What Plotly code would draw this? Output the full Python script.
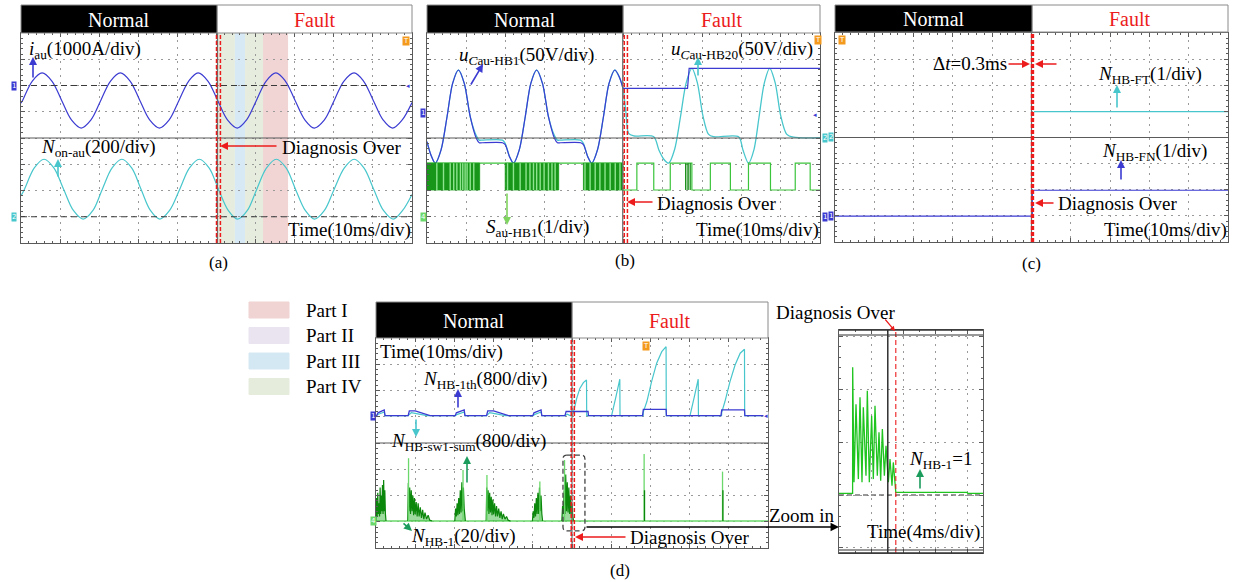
import plotly.graph_objects as go

W, H = 1233, 582
SERIF = "Liberation Serif"
BLUE = "#3b3bd2"
CYAN = "#47c6cc"
GREEN = "#16a316"
LGREEN = "#6ad86a"
DGREEN = "#0b870b"
RED = "#ec1c1c"
GRID = "#9a9a9a"
FRAME = "#5a5a5a"
ORANGE = "#f39a1e"

# ---------------- (a) auxiliary current / on-state count (time in ms, values in div) ----------------
ia_t = [0, 0.4, 2.9, 5.4, 7.9, 10.4, 12.9, 15.4, 17.9, 20.4, 22.9, 25.4, 27.9, 30.4, 32.9, 35.4, 37.9, 40.4, 42.9, 45.3,
        47.8, 50.3, 52.8, 55.3, 57.7, 60.2, 62.7, 65.2, 67.6, 70.1, 72.6, 75.0, 77.6, 80.1, 82.6, 85.2, 87.6, 90.1, 92.6, 95.0,
        97.5, 100]
ia_v = [5.33, 5.43, 6.17, 6.48, 6.17, 5.43, 4.69, 4.38, 4.69, 5.43, 6.17, 6.48, 6.17, 5.43, 4.69, 4.38, 4.69, 5.43, 6.17, 6.48,
        6.17, 5.43, 4.69, 4.38, 4.69, 5.43, 6.17, 6.48, 6.17, 5.43, 4.69, 4.38, 4.69, 5.43, 6.17, 6.48, 6.17, 5.43, 4.69, 4.38,
        4.69, 5.35]
non_t = [0, 0.9, 3.4, 5.9, 8.4, 10.9, 13.4, 15.9, 18.4, 20.8, 23.3, 25.8, 28.3, 30.7, 33.1, 35.5, 38.0, 40.6, 43.1, 45.6,
         48.1, 50.5, 53.0, 55.4, 57.9, 60.3, 62.8, 65.3, 67.8, 70.2, 72.7, 75.1, 77.6, 80.1, 82.7, 85.2, 87.7, 90.2, 92.7, 95.2,
         97.6, 100]
non_v = [1.80, 2.05, 2.86, 3.19, 2.86, 2.05, 1.24, 0.91, 1.24, 2.05, 2.86, 3.19, 2.86, 2.05, 1.24, 0.91, 1.24, 2.05, 2.86, 3.19,
         2.86, 2.05, 1.24, 0.91, 1.24, 2.05, 2.86, 3.19, 2.86, 2.05, 1.24, 0.91, 1.24, 2.05, 2.86, 3.19, 2.86, 2.05, 1.24, 0.91,
         1.24, 1.85]
ground_a = [6.0, 1.0]

part_names = ["Part I", "Part II", "Part III", "Part IV"]
part_colors = ["#f0d3d3", "#e9e4ef", "#d4e8f3", "#e5ecdc"]
band_start = [50.1, 54.7, 57.3, 61.9]
band_end = [54.7, 57.3, 61.9, 68.3]
band_part = [3, 2, 3, 0]

# ---------------- (b) capacitor voltages and switching signal ----------------
ucau1_pre_t = [0, 1.0, 2.1, 3.6, 5.1, 6.5, 8.0, 9.5, 11.0, 12.5, 13.3, 14.0, 19.2, 19.9, 21.0, 22.0, 23.5, 25.0, 26.4, 27.9,
               29.4, 30.9, 32.4, 33.2, 34.0, 39.1, 39.8, 40.9, 41.9, 43.4, 44.9, 46.3, 47.8, 49.0, 49.85]
ucau1_pre_v = [3.86, 3.35, 3.04, 3.56, 4.81, 6.07, 6.59, 6.07, 4.81, 4.0, 3.82, 3.82, 3.82, 3.75, 3.29, 3.04, 3.56, 4.81, 6.07, 6.59,
               6.07, 4.81, 4.0, 3.82, 3.82, 3.82, 3.75, 3.29, 3.04, 3.56, 4.81, 6.07, 6.59, 6.3, 5.9]
ucau1_post_t = [49.85, 66.3, 66.7, 100]
ucau1_post_v = [5.89, 5.89, 6.65, 6.65]
ucau20_t = [0, 1.0, 2.1, 3.6, 5.1, 6.5, 8.0, 9.5, 11.0, 12.5, 13.3, 14.0, 19.2, 19.9, 21.0, 22.0, 23.5, 25.0, 26.4, 27.9,
            29.4, 30.9, 32.4, 33.2, 34.0, 39.1, 39.8, 40.9, 41.9, 43.4, 44.9, 46.3, 47.8, 49.0, 49.85,
            50.6, 51.3, 52.6, 57.7, 59.0, 60.2, 61.5, 63.0, 64.5, 65.9, 67.4, 68.8, 70.2, 71.6, 72.9, 79.3, 80.4, 81.8, 83.2, 84.5,
            85.8, 87.2, 88.6, 90.0, 91.5, 93.3, 100]
ucau20_v = [3.86, 3.35, 3.04, 3.56, 4.81, 6.07, 6.59, 6.07, 4.81, 4.1, 3.92, 3.92, 3.92, 3.80, 3.29, 3.04, 3.56, 4.81, 6.07, 6.59,
            6.07, 4.81, 4.1, 3.92, 3.92, 3.92, 3.80, 3.29, 3.04, 3.56, 4.81, 6.07, 6.59, 6.3, 5.9,
            5.0, 4.18, 4.08, 4.05, 3.54, 3.2, 3.04, 3.56, 4.81, 6.07, 6.65, 6.1, 4.85, 4.15, 4.05, 4.05, 3.54, 3.04, 3.56, 4.81,
            6.07, 6.65, 6.1, 4.85, 4.15, 4.03, 4.01]
sw_t = [0, 13.4, 19.9, 33.5, 39.8, 49.8, 53.4, 57.7, 61.9, 67.4, 72.1, 77.2, 81.8, 87.4, 93.7, 97.5, 100]
sw_v = [3.04, 3.04, 3.04, 3.04, 3.04, 2.02, 3.04, 2.02, 3.04, 2.02, 3.04, 2.02, 3.04, 2.02, 3.04, 2.02, 2.02]
sw_low, sw_high = 2.02, 3.04
burst_start = [0, 19.9, 39.8]
burst_end = [13.4, 33.5, 49.8]
burst_light = [2.5, 4.2, 5.9, 6.8, 7.6, 8.5, 9.1, 9.7, 10.2, 11.0, 11.9,
               20.5, 22.0, 23.7, 25.2, 26.2, 27.1, 27.9, 28.8, 29.8, 30.9, 31.8, 32.6,
               40.2, 41.5, 42.8, 44.0, 45.3, 46.6, 47.9, 49.1]
burst_dark_post = [65.8, 66.2, 66.6, 67.0]

# ---------------- (c) fault counters ----------------
fn_t = [0, 50.2, 50.2, 100]
fn_v = [0.99, 0.99, 1.98, 1.98]
ft_t = [50.6, 100]
ft_v = [4.99, 4.99]

# ---------------- (d) thresholds and fault counter ----------------
n1th_t = [0, 0.2, 0.5, 2.1, 2.3, 8.2, 8.5, 10.0, 13.8, 20.2, 20.5, 22.5, 22.7, 28.2, 28.5, 30.0, 33.8, 40.0, 40.3, 42.1, 42.3,
          48.2, 48.5, 54.1, 54.2, 68.0, 68.2, 74.0, 74.1, 88.0, 88.2, 94.0, 94.1, 100]
n1th_v = [5.04, 5.04, 5.15, 5.26, 5.04, 5.04, 5.22, 5.22, 5.04, 5.04, 5.15, 5.26, 5.04, 5.04, 5.22, 5.22, 5.04, 5.04, 5.15, 5.26, 5.04,
          5.04, 5.2, 5.2, 5.04, 5.04, 5.28, 5.28, 5.04, 5.04, 5.26, 5.26, 5.04, 5.04]
nsum_t = [0, 0.3, 2.1, 2.3, 8.2, 9.0, 11.0, 13.0, 20.2, 20.6, 22.5, 22.7, 28.2, 29.0, 31.0, 33.0, 40.0, 40.4, 42.1, 42.3, 48.2, 48.8, 49.6,
          50.3, 51.2, 52.0, 52.9, 53.7, 53.75, 60.1, 61.2, 62.2, 62.25, 68.15, 68.2, 69.1, 70.3, 71.6, 72.9, 74.0, 74.05,
          80.1, 81.2, 82.2, 82.25, 88.15, 88.2, 89.0, 90.3, 91.6, 92.9, 94.0, 94.05, 100]
nsum_v = [5.04, 5.08, 5.18, 5.04, 5.04, 5.16, 5.1, 5.04, 5.04, 5.08, 5.18, 5.04, 5.04, 5.16, 5.1, 5.04, 5.04, 5.08, 5.18, 5.04, 5.04, 5.1, 5.04,
          5.13, 5.70, 6.08, 6.30, 6.40, 5.04, 5.04, 5.76, 6.43, 5.04, 5.04, 5.19, 5.58, 6.34, 7.04, 7.48, 7.67, 5.04,
          5.04, 5.76, 6.43, 5.04, 5.04, 5.17, 5.57, 6.34, 6.97, 7.42, 7.57, 5.04, 5.04]

nb_base = 1.03
nb1_t = [0, 0.15, 0.3, 0.45, 0.6, 0.75, 0.9, 1.05, 1.2, 1.35, 1.5, 1.65, 1.8, 1.95, 2.1, 2.25, 2.4, 2.55]
nb1_v = [1.03, 1.9, 1.2, 2.1, 1.3, 1.7, 1.2, 2.3, 1.3, 2.0, 1.4, 2.4, 1.3, 2.59, 1.4, 2.2, 1.3, 1.03]
nb2_t = [8.1, 8.25, 8.4, 8.6, 8.8, 9.0, 9.2, 9.4, 9.6, 9.8, 10.0, 10.25, 10.5, 10.75, 11.0, 11.3, 11.6, 11.9, 12.2, 12.5, 12.9, 13.3, 13.7, 14.3]
nb2_v = [1.03, 2.48, 1.4, 2.3, 1.3, 2.2, 1.4, 2.0, 1.25, 1.9, 1.3, 1.75, 1.2, 1.7, 1.2, 1.55, 1.15, 1.45, 1.1, 1.35, 1.1, 1.25, 1.06, 1.03]
nb3_t = [20.1, 20.3, 20.5, 20.7, 20.9, 21.1, 21.3, 21.5, 21.7, 21.9, 22.1, 22.3, 22.5, 22.8]
nb3_v = [1.03, 1.5, 1.2, 1.7, 1.25, 1.9, 1.3, 2.2, 1.35, 2.5, 1.4, 2.3, 1.5, 1.03]
nb4_t = [28.1, 28.25, 28.4, 28.6, 28.8, 29.0, 29.2, 29.4, 29.6, 29.8, 30.0, 30.25, 30.5, 30.75, 31.0, 31.3, 31.6, 31.9, 32.2, 32.5, 32.9, 33.3, 33.7, 34.3]
nb4_v = [1.03, 2.3, 1.4, 2.2, 1.3, 2.1, 1.35, 1.95, 1.25, 1.85, 1.3, 1.7, 1.2, 1.6, 1.2, 1.5, 1.15, 1.4, 1.1, 1.3, 1.1, 1.2, 1.06, 1.03]
nb5_t = [39.9, 40.1, 40.3, 40.5, 40.7, 40.9, 41.1, 41.3, 41.5, 41.7, 41.9, 42.1, 42.3, 42.5]
nb5_v = [1.03, 1.4, 1.15, 1.7, 1.2, 1.9, 1.3, 2.1, 1.3, 2.3, 1.4, 2.0, 1.3, 1.03]
nb6_t = [47.4, 47.6, 47.8, 48.0, 48.2, 48.4, 48.6, 48.8, 49.0, 49.2, 49.4, 49.6, 49.8, 50.0, 50.2, 50.4]
nb6_v = [1.03, 1.6, 1.3, 2.2, 1.3, 2.8, 1.4, 2.5, 1.35, 2.3, 1.3, 2.0, 1.3, 1.7, 1.2, 1.03]
spike_t = [8.3, 22.2, 28.3, 41.8, 48.1, 68.4, 88.4]
spike_v = [3.42, 2.97, 2.78, 2.53, 3.35, 3.58, 2.91]
spike_dark_t = [68.5, 88.5]
spike_dark_v = [2.2, 2.2]

# zoomed view of the last burst (time in ms, N_HB-1 in counts)
zoom_t = [0, 1.7, 1.71, 1.875, 2.125, 2.42, 2.625, 2.875, 3.04, 3.375, 3.54, 3.79, 4.08, 4.29, 4.5, 4.79, 5.0, 5.21,
          5.42, 5.67, 5.875, 6.17, 6.375, 6.625, 6.79, 7.0, 7.1, 16.0, 16.1, 18]
zoom_n = [0.6, 0.6, 48.2, 4.8, 34.3, 6.0, 36.9, 4.8, 33.1, 7.3, 39.4, 4.8, 29.9, 6.0, 33.7, 7.3, 23.7, 5.4,
          24.9, 7.3, 18.6, 4.8, 13.6, 3.5, 12.3, 1.6, 1.0, 1.0, 0.6, 0.6]

fig = go.Figure()
layout_axes = {}
shapes = []
annotations = []


def refs(n):
    return ("x", "y") if n == 1 else (f"x{n}", f"y{n}")


def px_x(x):
    return x / W


def px_y(y):
    return 1 - y / H


def axis_pair(n, xpx, ypx, xrange, yrange, xdtick, ydtick, ytick0=0):
    xr, yr = refs(n)
    xname = "xaxis" if n == 1 else f"xaxis{n}"
    yname = "yaxis" if n == 1 else f"yaxis{n}"
    common = dict(showgrid=True, gridcolor=GRID, griddash="2px,5px", gridwidth=1, zeroline=False,
                  showline=True, linecolor=FRAME, linewidth=1, mirror="ticks", ticks="inside",
                  ticklen=4, tickcolor=FRAME, showticklabels=False, fixedrange=True)
    layout_axes[xname] = dict(common, domain=[px_x(xpx[0]), px_x(xpx[1])], range=xrange, dtick=xdtick,
                              tick0=0, anchor=yr,
                              minor=dict(ticks="inside", ticklen=2, dtick=xdtick / 5, tickcolor=FRAME, showgrid=False))
    layout_axes[yname] = dict(common, domain=[px_y(ypx[1]), px_y(ypx[0])], range=yrange, dtick=ydtick,
                              tick0=ytick0, anchor=xr,
                              minor=dict(ticks="inside", ticklen=2, dtick=ydtick / 5, tick0=ytick0,
                                         tickcolor=FRAME, showgrid=False))


def add_line(n, x, y, color, width=1.3, shape="linear", smoothing=1.0, fill=None, fillcolor=None):
    xr, yr = refs(n)
    ln = dict(color=color, width=width, shape=shape)
    if shape == "spline":
        ln["smoothing"] = smoothing
    kw = {}
    if fill:
        kw = dict(fill=fill, fillcolor=fillcolor)
    fig.add_trace(go.Scatter(x=x, y=y, xaxis=xr, yaxis=yr, mode="lines", line=ln,
                             hoverinfo="skip", showlegend=False, **kw))


def verticals(ts, lo, his):
    xs, ys = [], []
    for t, hi in zip(ts, his):
        xs += [t, t, None]
        ys += [lo, hi, None]
    return xs, ys


def label(x, y, text, size=19, color="black", xanchor="left", family=SERIF):
    annotations.append(dict(x=px_x(x), y=px_y(y), xref="paper", yref="paper", text=text, showarrow=False,
                            xanchor=xanchor, yanchor="middle", font=dict(family=family, size=size, color=color)))


def arrow(x0, y0, x1, y1, color, width=1.6, head=2, size=1.0):
    annotations.append(dict(x=px_x(x1), y=px_y(y1), xref="paper", yref="paper", ax=x0 - x1, ay=y0 - y1,
                            axref="pixel", ayref="pixel", text="", showarrow=True, arrowhead=head,
                            arrowsize=size, arrowwidth=width, arrowcolor=color, standoff=0))


def marker(x, y, text, bg, fg="white"):
    annotations.append(dict(x=px_x(x), y=px_y(y), xref="paper", yref="paper", text=text, showarrow=False,
                            xanchor="center", yanchor="middle", bgcolor=bg, borderpad=0,
                            font=dict(family="DejaVu Sans", size=7, color=fg)))


def paper_rect(x0, y0, x1, y1, fill, line_color=None, width=1, layer="above"):
    shapes.append(dict(type="rect", xref="paper", yref="paper", x0=px_x(x0), x1=px_x(x1), y0=px_y(y1), y1=px_y(y0),
                       fillcolor=fill, line=dict(color=line_color or fill, width=width), layer=layer))


def paper_line(x0, y0, x1, y1, color, width=1, dash="solid"):
    shapes.append(dict(type="line", xref="paper", yref="paper", x0=px_x(x0), x1=px_x(x1), y0=px_y(y0), y1=px_y(y1),
                       line=dict(color=color, width=width, dash=dash)))


def fault_lines(n, gray, reds, red_width=1.5):
    xr, yr = refs(n)
    shapes.append(dict(type="line", xref=xr, yref=f"{yr} domain", x0=gray, x1=gray, y0=0, y1=1,
                       line=dict(color="#6a6a6a", width=1.2)))
    for r in reds:
        shapes.append(dict(type="line", xref=xr, yref=f"{yr} domain", x0=r, x1=r, y0=0, y1=1,
                           line=dict(color=RED, width=red_width, dash="4px,2px")))


def mid_line(n, v=4):
    xr, yr = refs(n)
    shapes.append(dict(type="line", xref=f"{xr} domain", yref=yr, x0=0, x1=1, y0=v, y1=v,
                       line=dict(color=FRAME, width=1.1)))


# ---------------- axes for the four scope screens and the zoomed view ----------------
axis_pair(1, (21, 412), (33, 243), [0, 100], [0, 8], 10, 1)
axis_pair(2, (427, 820), (33, 243), [0, 100], [0, 8], 10, 1)
axis_pair(3, (835, 1228), (33, 242), [0, 100], [0, 8], 10, 1)
axis_pair(4, (376, 768), (338, 548), [0, 100], [0, 8], 10, 1)
axis_pair(5, (839, 983), (330, 553), [0, 18], [-21.9, 62.3], 4, 20)
layout_axes["xaxis5"]["minor"]["dtick"] = 2

# ---------------- panel (a) ----------------
for s, e, p in zip(band_start, band_end, band_part):
    shapes.append(dict(type="rect", xref="x", yref="y domain", x0=s, x1=e, y0=0, y1=1,
                       fillcolor=part_colors[p], line=dict(width=0), layer="below", opacity=0.95))
for g in ground_a:
    shapes.append(dict(type="line", xref="x domain", yref="y", x0=0, x1=1, y0=g, y1=g,
                       line=dict(color="#3a3a3a", width=1.2, dash="6px,4px")))
add_line(1, ia_t, ia_v, BLUE, 1.2, "spline", 1.0)
add_line(1, non_t, non_v, CYAN, 1.2, "spline", 1.0)
mid_line(1)
fault_lines(1, 50.25, [50.0, 51.0])

# ---------------- panel (b) ----------------
add_line(2, ucau20_t, ucau20_v, CYAN, 1.3, "spline", 0.8)
add_line(2, ucau1_pre_t, ucau1_pre_v, BLUE, 1.2, "spline", 0.8)
add_line(2, ucau1_post_t, ucau1_post_v, BLUE, 1.2)
add_line(2, sw_t, sw_v, "#3cc43c", 1.2, "hv")
bx, by = [], []
for s, e in zip(burst_start, burst_end):
    bx += [s, e, e, s, s, None]
    by += [sw_low, sw_low, sw_high, sw_high, sw_low, None]
add_line(2, bx, by, "#129a12", 0.8, fill="toself", fillcolor="#17961a")
lx, ly = verticals(burst_light, sw_low, [sw_high] * len(burst_light))
add_line(2, lx, ly, "#8fe48f", 1.4)
dx, dy = verticals(burst_dark_post, sw_low, [sw_high] * len(burst_dark_post))
add_line(2, dx, dy, DGREEN, 1.0)
mid_line(2)
fault_lines(2, 49.8, [50.2, 51.0])

# ---------------- panel (c) ----------------
add_line(3, ft_t, ft_v, CYAN, 1.2)
add_line(3, fn_t, fn_v, BLUE, 1.2)
mid_line(3)
fault_lines(3, 50.0, [50.1, 50.4], red_width=2.2)

# ---------------- panel (d) ----------------
add_line(4, [0, 100], [nb_base, nb_base], LGREEN, 1.4)
add_line(4, nsum_t, nsum_v, CYAN, 1.2)
add_line(4, n1th_t, n1th_v, BLUE, 1.3)
gx, gy = [], []
for tt, vv in [(nb1_t, nb1_v), (nb2_t, nb2_v), (nb3_t, nb3_v), (nb4_t, nb4_v), (nb5_t, nb5_v), (nb6_t, nb6_v)]:
    gx += tt + [None]
    gy += vv + [None]
add_line(4, gx, gy, DGREEN, 1.2, fill="toself", fillcolor="rgba(40,175,40,0.45)")
sx, sy = verticals(spike_t, nb_base, spike_v)
add_line(4, sx, sy, LGREEN, 1.3)
sdx, sdy = verticals(spike_dark_t, nb_base, spike_dark_v)
add_line(4, sdx, sdy, DGREEN, 1.3)
mid_line(4)
fault_lines(4, 50.0, [49.8, 50.6])
box = "M 48.7,3.54 L 52.3,3.54 Q 53.3,3.54 53.3,3.39 L 53.3,0.8 Q 53.3,0.65 52.3,0.65 L 48.7,0.65 Q 47.7,0.65 47.7,0.8 L 47.7,3.39 Q 47.7,3.54 48.7,3.54 Z"
shapes.append(dict(type="path", xref="x4", yref="y4", path=box, line=dict(color="#444", width=1.3, dash="5px,3px")))

# ---------------- zoomed view ----------------
shapes.append(dict(type="line", xref="x5 domain", yref="y5", x0=0, x1=1, y0=0, y1=0,
                   line=dict(color="#777", width=1.3, dash="5px,3px")))
add_line(5, zoom_t, zoom_n, "#1fc41f", 1.3)
shapes.append(dict(type="line", xref="x5", yref="y5 domain", x0=6.1, x1=6.1, y0=0, y1=1,
                   line=dict(color="#222", width=1.4)))
shapes.append(dict(type="line", xref="x5", yref="y5 domain", x0=7.1, x1=7.1, y0=0, y1=1,
                   line=dict(color=RED, width=1.1, dash="5px,3px")))
paper_line(839, 335, 983, 335, "#333", 1.2)
paper_line(839, 550, 983, 550, "#333", 1.2)
paper_line(839, 330, 983, 330, "#333", 1.5)
paper_line(839, 553, 983, 553, "#333", 1.5)

# ---------------- header bars ----------------
for x0, xf, x1, y0, y1 in [(21, 217, 412, 5, 33), (427, 623, 820, 5, 33), (835, 1032, 1228, 5, 32), (376, 572, 768, 302, 338)]:
    paper_rect(xf, y0, x1, y1, "white", "#8a8a8a")
    paper_rect(x0, y0, xf, y1, "black", "#8a8a8a")
    label((x0 + xf) / 2, (y0 + y1) / 2 + 1, "Normal", 20, "white", "center")
    label((xf + x1) / 2, (y0 + y1) / 2 + 1, "Fault", 20, RED, "center")

# ---------------- labels (a) ----------------
label(27, 50, "<i>i</i><sub>au</sub>(1000A/div)")
arrow(33, 79, 33, 57, BLUE)
label(39, 148, "<i>N</i><sub>on-au</sub>(200/div)")
arrow(58, 178, 58, 159, CYAN)
arrow(278, 146, 220, 146, RED)
label(280, 147, "Diagnosis Over")
label(286, 230, "Time(10ms/div)")
label(218, 263, "(a)", 17, xanchor="center")

# ---------------- labels (b) ----------------
label(457, 56, "<i>u</i><sub><i>C</i>au-HB1</sub>(50V/div)")
arrow(470, 86, 483, 64, BLUE)
label(669, 50, "<i>u</i><sub><i>C</i>au-HB20</sub>(50V/div)")
arrow(698, 77, 698, 57, CYAN)
label(484, 228, "<i>S</i><sub>au-HB1</sub>(1/div)")
arrow(507, 192, 507, 225, "#7fd45f")
arrow(654, 202, 627, 202, RED)
label(655, 203, "Diagnosis Over")
label(694, 230, "Time(10ms/div)")
label(625, 260, "(b)", 17, xanchor="center")

# ---------------- labels (c) ----------------
label(931, 63, "Δ<i>t</i>=0.3ms")
arrow(1007, 64, 1030, 64, RED)
arrow(1058, 64, 1035, 64, RED)
label(1096, 75, "<i>N</i><sub>HB-FT</sub>(1/div)")
arrow(1117, 109, 1117, 85, CYAN)
label(1100, 152, "<i>N</i><sub>HB-FN</sub>(1/div)")
arrow(1121, 181, 1121, 160, BLUE)
arrow(1055, 203, 1035, 203, RED)
label(1056, 203, "Diagnosis Over")
label(1102, 230, "Time(10ms/div)")
label(1031, 264, "(c)", 17, xanchor="center")

# ---------------- labels (d) ----------------
label(378, 352, "Time(10ms/div)")
label(421, 380, "<i>N</i><sub>HB-1th</sub>(800/div)")
arrow(458, 409, 458, 389, BLUE)
arrow(416, 418, 416, 437, CYAN)
label(389, 442, "<i>N</i><sub>HB-sw1-sum</sub>(800/div)")
arrow(467, 484, 467, 456, "#1c9c5c")
label(409, 537, "<i>N</i><sub>HB-1</sub>(20/div)")
arrow(402, 522, 412, 531, "#1c9c5c")
arrow(627, 537, 575, 537, RED)
label(628, 537, "Diagnosis Over")
arrow(585, 527, 839, 527, "black", 1.3, 2, 1.3)
label(767, 515, "Zoom in")
label(774, 312, "Diagnosis Over")
arrow(884, 318, 895, 331, RED, 1.2, 2, 0.8)
label(907, 460, "<i>N</i><sub>HB-1</sub>=1")
arrow(920, 490, 920, 469, "#1c9c5c")
label(865, 532, "Time(4ms/div)")
label(620, 570, "(d)", 17, xanchor="center")

# legend of the diagnosis parts
for i, (name, col) in enumerate(zip(part_names, part_colors)):
    yc = 310 + i * 25.5
    paper_rect(249, yc - 8, 289, yc + 8, col)
    label(304, yc, name)

# channel and trigger markers on the scope screens
marker(14, 86, "1", BLUE)
marker(14, 217, "2", CYAN)
marker(406, 41, "T", ORANGE)
marker(408, 86, "◂", "white", BLUE)
marker(423, 113, "1", BLUE)
marker(423, 217, "4", LGREEN)
marker(818, 40, "T", ORANGE)
marker(815, 115, "◂", "white", BLUE)
marker(825, 138, "2", CYAN)
marker(825, 217, "1", BLUE)
marker(842, 40, "T", ORANGE)
marker(831, 137, "2", CYAN)
marker(831, 216, "1", BLUE)
marker(373, 416, "1", BLUE)
marker(373, 521, "4", LGREEN)
marker(646, 346, "T", ORANGE)
marker(766, 416, "◂", "white", BLUE)

fig.update_layout(width=W, height=H, margin=dict(l=0, r=0, t=0, b=0), paper_bgcolor="white",
                  plot_bgcolor="white", showlegend=False, shapes=shapes, annotations=annotations,
                  **layout_axes)
fig.write_html("out.html")
